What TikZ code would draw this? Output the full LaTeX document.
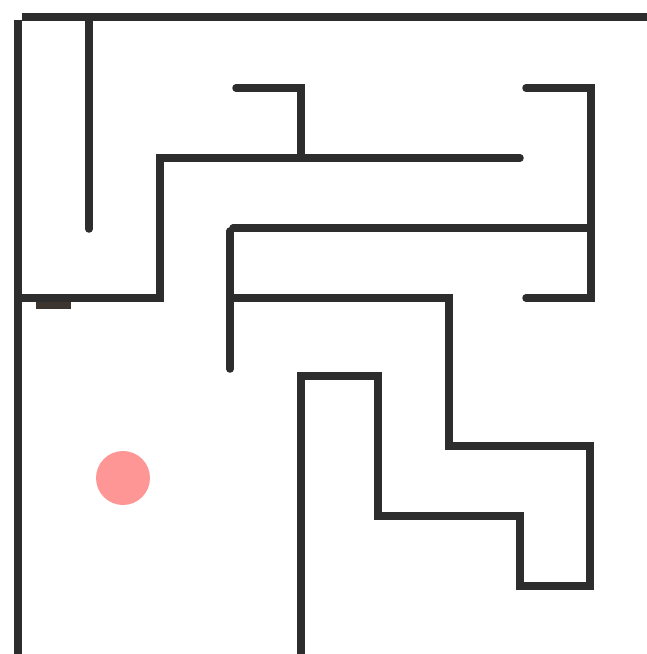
\documentclass[tikz,border=0pt]{standalone}
\usepackage{tikz}
\usetikzlibrary{backgrounds}
\definecolor{wallgray}{RGB}{45,45,45}
\definecolor{ballred}{RGB}{255,150,150}
\tikzset{every picture/.style={line width=0.75pt}}
\tikzset{wall/.style={draw=wallgray,line width=7.5pt,line cap=round,line join=miter}}

\begin{document}
\begin{tikzpicture}[x=1pt,y=-1pt]
    \useasboundingbox (0,0) rectangle (647,654);
    \fill[white] (0,0) rectangle (647,654);

    % Outer walls
    \draw[wall,line cap=butt] (22,17) -- (647,17);
    \draw[wall,line cap=butt] (18,20) -- (18,654);

    % Upper left part
    \draw[wall] (89,17) -- (89,229);
    \draw[wall] (18,298) -- (160,298) -- (160,158) -- (520,158);
    \fill[wallgray!90!brown] (36,302) rectangle (71,309);

    % Bracket on top
    \draw[wall] (236,88) -- (301,88) -- (301,158);

    % Right bracket
    \draw[wall] (526,88) -- (591,88) -- (591,298) -- (526,298);
    \draw[wall] (233,228) -- (591,228);
    \draw[wall] (230,231) -- (230,369);

    % Long winding wall
    \draw[wall] (230,298) -- (449,298) -- (449,446) -- (590,446)
        -- (590,586) -- (520,586) -- (520,516) -- (378,516)
        -- (378,376) -- (301,376) -- (301,654);

    % Ball
    \fill[ballred] (123,478) circle (27);
\end{tikzpicture}
\end{document}
